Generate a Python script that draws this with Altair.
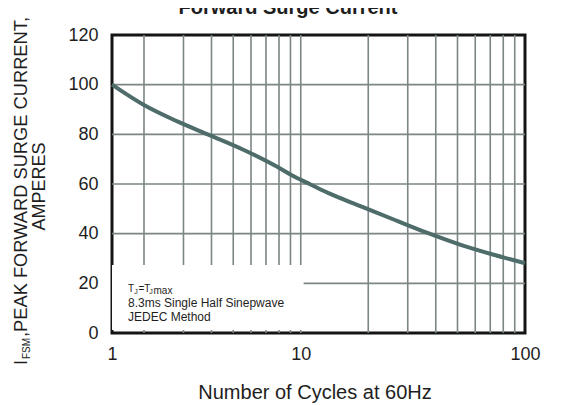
import altair as alt
import pandas as pd

# ---------------- data ----------------
cycles = [1.44, 1.99, 2.80, 3.94, 5.55, 7.82, 9.44, 11.0, 13.3, 18.7, 26.3, 37.0, 52.1, 73.3, 100]
current = [100, 91.9, 85.3, 79.6, 73.8, 67.0, 62.8, 59.9, 56.3, 50.9, 45.5, 40.2, 35.4, 31.4, 28.1]

x_grid = [2, 3, 4, 5, 6, 7, 8, 9, 10, 20, 30, 40, 50, 60, 70, 80, 90]
y_grid = [20, 40, 60, 80, 100]

x_ticks = [1.44, 10, 100]
x_tick_labels = ["1", "10", "100"]
y_ticks = [0, 20, 40, 60, 80, 100, 120]

x_domain = [1.44, 100]
y_domain = [0, 120]

# white box holding the test-condition note (in data units)
note_box = {"x0": [1.44], "x1": [10.3], "y0": [1.2], "y1": [27.4]}

title_text = "Forward Surge Current"
x_title = "Number of Cycles at 60Hz"
y_title_main = ",PEAK FORWARD SURGE CURRENT,"
y_title_line2 = "AMPERES"
note_lines = ["8.3ms Single Half  Sinepwave", "JEDEC Method"]

# ---------------- styling ----------------
FONT = "Liberation Sans"
W, H = 413, 298
GRID_COLOR = "#7b8685"
CURVE_COLOR = "#4d6c6a"
TEXT_COLOR = "#1e1e1e"

label_expr = " : ".join(
    f"datum.value < {v * 1.01 if i < len(x_ticks) - 1 else 1e9} ? '{lab}'"
    for i, (v, lab) in enumerate(zip(x_ticks, x_tick_labels))
) + " : ''"

xs = alt.Scale(type="log", domain=x_domain, nice=False)
ys = alt.Scale(type="linear", domain=y_domain, nice=False, zero=False)

x_axis = alt.Axis(values=x_ticks, labelExpr=label_expr, title=None, ticks=False,
                  domain=False, grid=False, labelFontSize=18, labelFont=FONT,
                  labelColor=TEXT_COLOR, labelPadding=12, labelFlush=False,
                  labelOverlap=False, labelBound=False)
y_axis = alt.Axis(values=y_ticks, title=None, ticks=False, domain=False, grid=False,
                  labelFontSize=18, labelFont=FONT, labelColor=TEXT_COLOR,
                  labelPadding=14, labelFlush=False, labelOverlap=False, labelBound=False)

df_curve = pd.DataFrame({"cycles": cycles, "current": current})
df_xg = pd.DataFrame({"x": x_grid})
df_yg = pd.DataFrame({"y": y_grid})
df_box = pd.DataFrame(note_box)
one = pd.DataFrame({"k": [0]})

vgrid = alt.Chart(df_xg).mark_rule(color=GRID_COLOR, strokeWidth=1.6).encode(
    x=alt.X("x:Q", scale=xs, axis=x_axis))
hgrid = alt.Chart(df_yg).mark_rule(color=GRID_COLOR, strokeWidth=1.6).encode(
    y=alt.Y("y:Q", scale=ys, axis=y_axis))
box = alt.Chart(df_box).mark_rect(color="white").encode(
    x=alt.X("x0:Q", scale=xs, axis=x_axis), x2="x1:Q",
    y=alt.Y("y0:Q", scale=ys, axis=y_axis), y2="y1:Q")
curve = alt.Chart(df_curve).mark_line(color=CURVE_COLOR, strokeWidth=4,
                                      interpolate="monotone").encode(
    x=alt.X("cycles:Q", scale=xs, axis=x_axis),
    y=alt.Y("current:Q", scale=ys, axis=y_axis))


def txt(text, x, y, size, **kw):
    return alt.Chart(one).mark_text(text=text, font=FONT, fontSize=size,
                                    color=kw.pop("color", TEXT_COLOR), **kw).encode(
        x=alt.value(x), y=alt.value(y))


layers = [
    vgrid, hgrid, box, curve,
    # note
    txt("T", 16, 257.3, 10, align="left", baseline="alphabetic"),
    txt("J", 22.3, 258.8, 7, align="left", baseline="alphabetic"),
    txt("=T", 26.5, 257.3, 10, align="left", baseline="alphabetic"),
    txt("J", 37.3, 258.8, 7, align="left", baseline="alphabetic"),
    txt("max", 41.5, 258.8, 10, align="left", baseline="alphabetic"),
    txt(note_lines[0], 16, 271.7, 12, align="left", baseline="alphabetic"),
    txt(note_lines[1], 16, 286, 12, align="left", baseline="alphabetic"),
    # chart title (cut by the top edge as in the reference)
    txt(title_text, 176, -21, 20, align="center", baseline="alphabetic", fontWeight="bold"),
    # x title
    txt(x_title, 203, 364.3, 20, align="center", baseline="alphabetic"),
    # y title
    txt("I", -85, 330, 18, align="left", baseline="alphabetic", angle=270),
    txt("FSM", -82, 324, 10, align="left", baseline="alphabetic", angle=270),
    txt(y_title_main, -85, 302, 18.3, align="left", baseline="alphabetic", angle=270),
    txt(y_title_line2, -67, 151.5, 18, align="center", baseline="alphabetic", angle=270),
]

chart = alt.layer(*layers).properties(
    width=W, height=H,
    autosize=alt.AutoSizeParams(type="none"),
    padding={"left": 104, "top": 27, "right": 20, "bottom": 72},
    background="white",
).configure_view(stroke="#141414", strokeWidth=3)

chart.save("out.html", embed_options={"renderer": "svg", "actions": False})
